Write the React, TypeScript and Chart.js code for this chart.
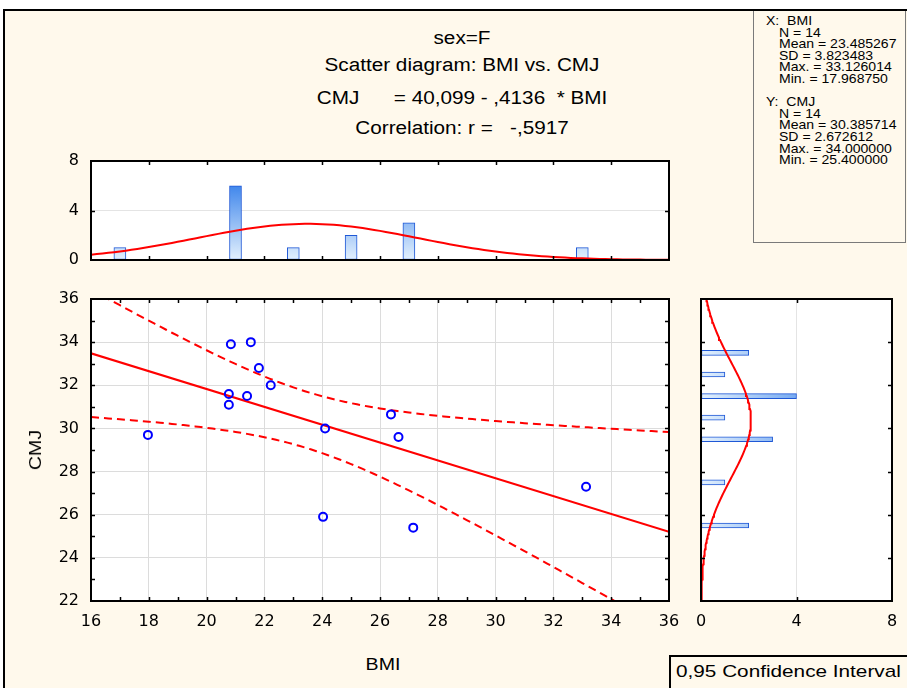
import React, { useEffect, useRef } from "react";
import { Chart, registerables } from "chart.js";

Chart.register(...registerables);

// ---------- data ----------
const bmiValues = [17.97, 20.84, 21.53, 21.81, 22.22, 20.77, 20.77, 21.4, 24.1, 26.38, 26.64, 24.03, 27.15, 33.13];
const cmjValues = [29.7, 33.9, 34.0, 32.8, 32.0, 31.6, 31.1, 31.5, 30.0, 30.65, 29.6, 25.9, 25.4, 27.3];

const bmiBinCenters = [17, 21, 23, 25, 27, 33];
const bmiBinCounts = [1, 6, 1, 2, 3, 1];
const cmjBinCenters = [33.5, 32.5, 31.5, 30.5, 29.5, 27.5, 25.5];
const cmjBinCounts = [2, 1, 4, 1, 3, 1, 2];

const bmiTickLabels = [16, 18, 20, 22, 24, 26, 28, 30, 32, 34, 36];
const cmjTickLabels = [22, 24, 26, 28, 30, 32, 34, 36];
const countTickLabels = [0, 4, 8];

const nObs = 14;
const bmiMean = 23.485267;
const bmiSD = 3.823483;
const bmiMax = 33.126014;
const bmiMin = 17.96875;
const cmjMean = 30.385714;
const cmjSD = 2.672612;
const cmjMax = 34.0;
const cmjMin = 25.4;
const regIntercept = 40.099;
const regSlope = -0.4136;
const corrR = -0.5917;
const tCrit95 = 2.1788; // t(0.975, df = 12)
const bmiBinWidth = 2;
const cmjBinWidth = 1;

// ---------- fitted curves (from the printed statistics) ----------
function normalCurve(mean: number, sd: number, n: number, binW: number, from: number, to: number, step: number) {
  const out: number[][] = [];
  for (let i = 0; from + i * step <= to + 1e-9; i++) {
    const v = from + i * step;
    const z = (v - mean) / sd;
    out.push([v, (n * binW * Math.exp(-0.5 * z * z)) / (sd * Math.sqrt(2 * Math.PI))]);
  }
  return out;
}

const sxx = (nObs - 1) * bmiSD * bmiSD;
const sRes = Math.sqrt(((1 - corrR * corrR) * (nObs - 1) * cmjSD * cmjSD) / (nObs - 2));
function ciBand(sign: number) {
  const out: { x: number; y: number }[] = [];
  for (let i = 0; i <= 100; i++) {
    const x = 16 + i * 0.2;
    const yhat = regIntercept + regSlope * x;
    const hw = tCrit95 * sRes * Math.sqrt(1 / nObs + ((x - bmiMean) * (x - bmiMean)) / sxx);
    out.push({ x, y: yhat + sign * hw });
  }
  return out;
}

const BG = "#FFF9EC";
const RED = "#FF0000";
const TICK_FONT = { family: "'DejaVu Sans', Arial, sans-serif", size: 16 };

function range(a: number, b: number, s: number) {
  const r: number[] = [];
  for (let v = a; v <= b + 1e-9; v += s) r.push(v);
  return r;
}

const panelPlugin = {
  id: "panel",
  beforeDraw(chart: any) {
    const { ctx, chartArea: a } = chart;
    ctx.save();
    ctx.fillStyle = "#FFFFFF";
    ctx.fillRect(a.left, a.top, a.right - a.left, a.bottom - a.top);
    ctx.restore();
  },
  afterDraw(chart: any, _args: any, opts: any) {
    const { ctx, chartArea: a, scales } = chart;
    ctx.save();
    ctx.strokeStyle = "#000";
    ctx.lineWidth = 1.5;
    const len = 4;
    const xs = scales.x;
    const ys = scales.y;
    ctx.beginPath();
    for (const v of opts.xMarks || []) {
      const p = Math.round(xs.getPixelForValue(v)) + 0.5;
      ctx.moveTo(p, a.top);
      ctx.lineTo(p, a.top + len);
      ctx.moveTo(p, a.bottom);
      ctx.lineTo(p, a.bottom - len);
    }
    for (const v of opts.yMarks || []) {
      const p = Math.round(ys.getPixelForValue(v)) + 0.5;
      ctx.moveTo(a.left, p);
      ctx.lineTo(a.left + len, p);
      ctx.moveTo(a.right, p);
      ctx.lineTo(a.right - len, p);
    }
    ctx.stroke();
    ctx.lineWidth = 2;
    ctx.strokeRect(a.left, a.top, a.right - a.left, a.bottom - a.top);
    ctx.restore();
  },
};

function vGradient(ctx: any) {
  const chart = ctx.chart;
  const a = chart.chartArea;
  if (!a) return "#9cc6f5";
  const g = chart.ctx.createLinearGradient(0, a.top, 0, a.bottom);
  g.addColorStop(0, "#0A64E6");
  g.addColorStop(1, "#E4F1FD");
  return g;
}
function hGradient(ctx: any) {
  const chart = ctx.chart;
  const a = chart.chartArea;
  if (!a) return "#9cc6f5";
  const g = chart.ctx.createLinearGradient(a.left, 0, a.right, 0);
  g.addColorStop(0, "#E4F1FD");
  g.addColorStop(1, "#0A64E6");
  return g;
}

export default function App() {
  const topRef = useRef<HTMLCanvasElement>(null);
  const mainRef = useRef<HTMLCanvasElement>(null);
  const sideRef = useRef<HTMLCanvasElement>(null);

  useEffect(() => {
    const charts: Chart[] = [];

    // ---- top histogram (BMI) ----
    const topCurve = normalCurve(bmiMean, bmiSD, nObs, bmiBinWidth, 16, 36, 0.2).map(([x, y]) => ({ x, y }));
    charts.push(
      new Chart(topRef.current!, {
        type: "bar",
        data: {
          datasets: [
            {
              type: "line",
              data: topCurve,
              borderColor: RED,
              borderWidth: 2,
              pointRadius: 0,
              order: 0,
            } as any,
            {
              type: "bar",
              data: bmiBinCenters.map((x, i) => ({ x, y: bmiBinCounts[i] })),
              backgroundColor: vGradient,
              borderColor: "#1F58D6",
              borderWidth: 1,
              borderSkipped: false,
              barThickness: 12,
              order: 1,
            } as any,
          ],
        },
        options: {
          responsive: false,
          animation: false,
          layout: { padding: { top: 22, right: 11, bottom: 22, left: 0 } },
          plugins: {
            legend: { display: false },
            tooltip: { enabled: false },
            panel: { xMarks: range(18, 34, 2), yMarks: [4] },
          } as any,
          scales: {
            x: { type: "linear", min: 16, max: 36, offset: false, display: false },
            y: {
              type: "linear",
              min: 0,
              max: 8,
              afterBuildTicks: (s: any) => {
                s.ticks = countTickLabels.map((v) => ({ value: v }));
              },
              ticks: { font: TICK_FONT, color: "#000", padding: 12 },
              grid: { color: "#E4E4E4", drawTicks: false },
              border: { display: false },
              afterFit: (s: any) => {
                s.width = 91;
              },
            },
          },
        },
        plugins: [panelPlugin],
      })
    );

    // ---- scatter ----
    charts.push(
      new Chart(mainRef.current!, {
        type: "scatter",
        data: {
          datasets: [
            {
              data: bmiValues.map((x, i) => ({ x, y: cmjValues[i] })),
              pointStyle: "circle",
              pointRadius: 4,
              pointBorderWidth: 2,
              pointBorderColor: "#0000FF",
              pointBackgroundColor: "rgba(0,0,0,0)",
              showLine: false,
              order: 0,
            } as any,
            {
              type: "line",
              data: [
                { x: 16, y: regIntercept + regSlope * 16 },
                { x: 36, y: regIntercept + regSlope * 36 },
              ],
              borderColor: RED,
              borderWidth: 2,
              pointRadius: 0,
              showLine: true,
              order: 1,
            } as any,
            {
              type: "line",
              data: ciBand(1),
              borderColor: RED,
              borderWidth: 2,
              borderDash: [8, 5],
              pointRadius: 0,
              showLine: true,
              order: 2,
            } as any,
            {
              type: "line",
              data: ciBand(-1),
              borderColor: RED,
              borderWidth: 2,
              borderDash: [8, 5],
              pointRadius: 0,
              showLine: true,
              order: 3,
            } as any,
          ],
        },
        options: {
          responsive: false,
          animation: false,
          layout: { padding: { top: 22, right: 22, bottom: 0, left: 0 } },
          plugins: {
            legend: { display: false },
            tooltip: { enabled: false },
            panel: { xMarks: range(17, 35, 1), yMarks: range(23, 35, 1) },
          } as any,
          scales: {
            x: {
              type: "linear",
              min: 16,
              max: 36,
              afterBuildTicks: (s: any) => {
                s.ticks = bmiTickLabels.map((v) => ({ value: v }));
              },
              ticks: { font: TICK_FONT, color: "#000", padding: 11, maxRotation: 0 },
              grid: { color: "#DCDCDC", drawTicks: false },
              border: { display: false },
              afterFit: (s: any) => {
                s.height = 36;
              },
            },
            y: {
              type: "linear",
              min: 22,
              max: 36,
              afterBuildTicks: (s: any) => {
                s.ticks = cmjTickLabels.map((v) => ({ value: v }));
              },
              ticks: { font: TICK_FONT, color: "#000", padding: 12 },
              grid: { color: "#DCDCDC", drawTicks: false },
              border: { display: false },
              afterFit: (s: any) => {
                s.width = 91;
              },
            },
          },
        },
        plugins: [panelPlugin],
      })
    );

    // ---- side histogram (CMJ) ----
    const sideCurve = normalCurve(cmjMean, cmjSD, nObs, cmjBinWidth, 22, 36, 0.1).map(([y, x]) => ({ x, y }));
    charts.push(
      new Chart(sideRef.current!, {
        type: "bar",
        data: {
          datasets: [
            {
              type: "line",
              data: sideCurve,
              borderColor: RED,
              borderWidth: 2,
              pointRadius: 0,
              order: 0,
            } as any,
            {
              type: "bar",
              data: cmjBinCenters.map((y, i) => ({ x: cmjBinCounts[i], y })),
              backgroundColor: hGradient,
              borderColor: "#1F58D6",
              borderWidth: 1,
              borderSkipped: false,
              barThickness: 5,
              order: 1,
            } as any,
          ],
        },
        options: {
          indexAxis: "y",
          responsive: false,
          animation: false,
          layout: { padding: { top: 12, right: 17, bottom: 0, left: 17 } },
          plugins: {
            legend: { display: false },
            tooltip: { enabled: false },
            panel: { xMarks: [4], yMarks: range(24, 34, 2) },
          } as any,
          scales: {
            y: { type: "linear", min: 22, max: 36, offset: false, display: false },
            x: {
              type: "linear",
              min: 0,
              max: 8,
              afterBuildTicks: (s: any) => {
                s.ticks = countTickLabels.map((v) => ({ value: v }));
              },
              ticks: { font: TICK_FONT, color: "#000", padding: 11, maxRotation: 0 },
              grid: { color: "#E4E4E4", drawTicks: false },
              border: { display: false },
              afterFit: (s: any) => {
                s.height = 36;
              },
            },
          },
        },
        plugins: [panelPlugin],
      })
    );

    return () => charts.forEach((c) => c.destroy());
  }, []);

  const sans = "'Liberation Sans', Arial, Helvetica, sans-serif";
  const title = (cy: number, text: string) => (
    <div
      style={{
        position: "absolute",
        left: 462,
        top: cy,
        transform: "translate(-50%, -50%) scaleX(1.15)",
        whiteSpace: "pre",
        font: `18px ${sans}`,
        lineHeight: "20px",
        color: "#000",
      }}
    >
      {text}
    </div>
  );

  const statLine = (cy: number, left: number, text: string) => (
    <div
      style={{
        position: "absolute",
        left,
        top: cy,
        transform: "translateY(-50%) scaleX(1.08)",
        transformOrigin: "left center",
        whiteSpace: "pre",
        font: `13px ${sans}`,
        lineHeight: "13px",
        color: "#000",
      }}
    >
      {text}
    </div>
  );

  const statsX = ["N = " + nObs, "Mean = " + bmiMean.toFixed(6), "SD = " + bmiSD.toFixed(6), "Max. = " + bmiMax.toFixed(6), "Min. = " + bmiMin.toFixed(6)];
  const statsY = ["N = " + nObs, "Mean = " + cmjMean.toFixed(6), "SD = " + cmjSD.toFixed(6), "Max. = " + cmjMax.toFixed(6), "Min. = " + cmjMin.toFixed(6)];
  const step = 11.6;
  const y0 = 20;

  return (
    <div style={{ position: "absolute", left: 0, top: 0, width: 907, height: 688, background: "#FFFFFF", overflow: "hidden" }}>
      <div
        style={{
          position: "absolute",
          left: 3,
          top: 9,
          width: 910,
          height: 690,
          background: BG,
          borderTop: "2px solid #000",
          borderLeft: "2px solid #000",
        }}
      />
      {title(38, "sex=F")}
      {title(65, "Scatter diagram: BMI vs. CMJ")}
      {title(98, "CMJ      = 40,099 - ,4136  * BMI")}
      {title(128, "Correlation: r =   -,5917")}

      <div
        style={{
          position: "absolute",
          left: 753,
          top: 11,
          width: 151,
          height: 231,
          border: "1px solid #7A7A7A",
          borderTop: "none",
          background: BG,
        }}
      />
      {statLine(y0, 766, "X:  BMI")}
      {statsX.map((t, i) => statLine(y0 + step * (i + 1), 779, t))}
      {statLine(y0 + step * 7, 766, "Y:  CMJ")}
      {statsY.map((t, i) => statLine(y0 + step * (i + 8), 779, t))}

      <canvas ref={topRef} width={680} height={143} style={{ position: "absolute", left: 0, top: 139 }} />
      <canvas ref={mainRef} width={691} height={360} style={{ position: "absolute", left: 0, top: 277 }} />
      <canvas ref={sideRef} width={225} height={350} style={{ position: "absolute", left: 684, top: 287 }} />

      <div
        style={{
          position: "absolute",
          left: 36,
          top: 450,
          transform: "translate(-50%, -50%) rotate(-90deg) scaleX(1.15)",
          font: `17px ${sans}`,
          whiteSpace: "pre",
          color: "#000",
        }}
      >
        CMJ
      </div>
      <div
        style={{
          position: "absolute",
          left: 383,
          top: 665,
          transform: "translate(-50%, -50%) scaleX(1.15)",
          font: `17px ${sans}`,
          whiteSpace: "pre",
          color: "#000",
        }}
      >
        BMI
      </div>

      <div
        style={{
          position: "absolute",
          left: 669,
          top: 655,
          width: 260,
          height: 60,
          background: BG,
          borderTop: "2px solid #000",
          borderLeft: "2px solid #000",
        }}
      />
      <div
        style={{
          position: "absolute",
          left: 676,
          top: 672,
          transform: "translateY(-50%) scaleX(1.22)",
          transformOrigin: "left center",
          font: `17px ${sans}`,
          whiteSpace: "pre",
          color: "#000",
        }}
      >
        0,95 Confidence Interval
      </div>
    </div>
  );
}
